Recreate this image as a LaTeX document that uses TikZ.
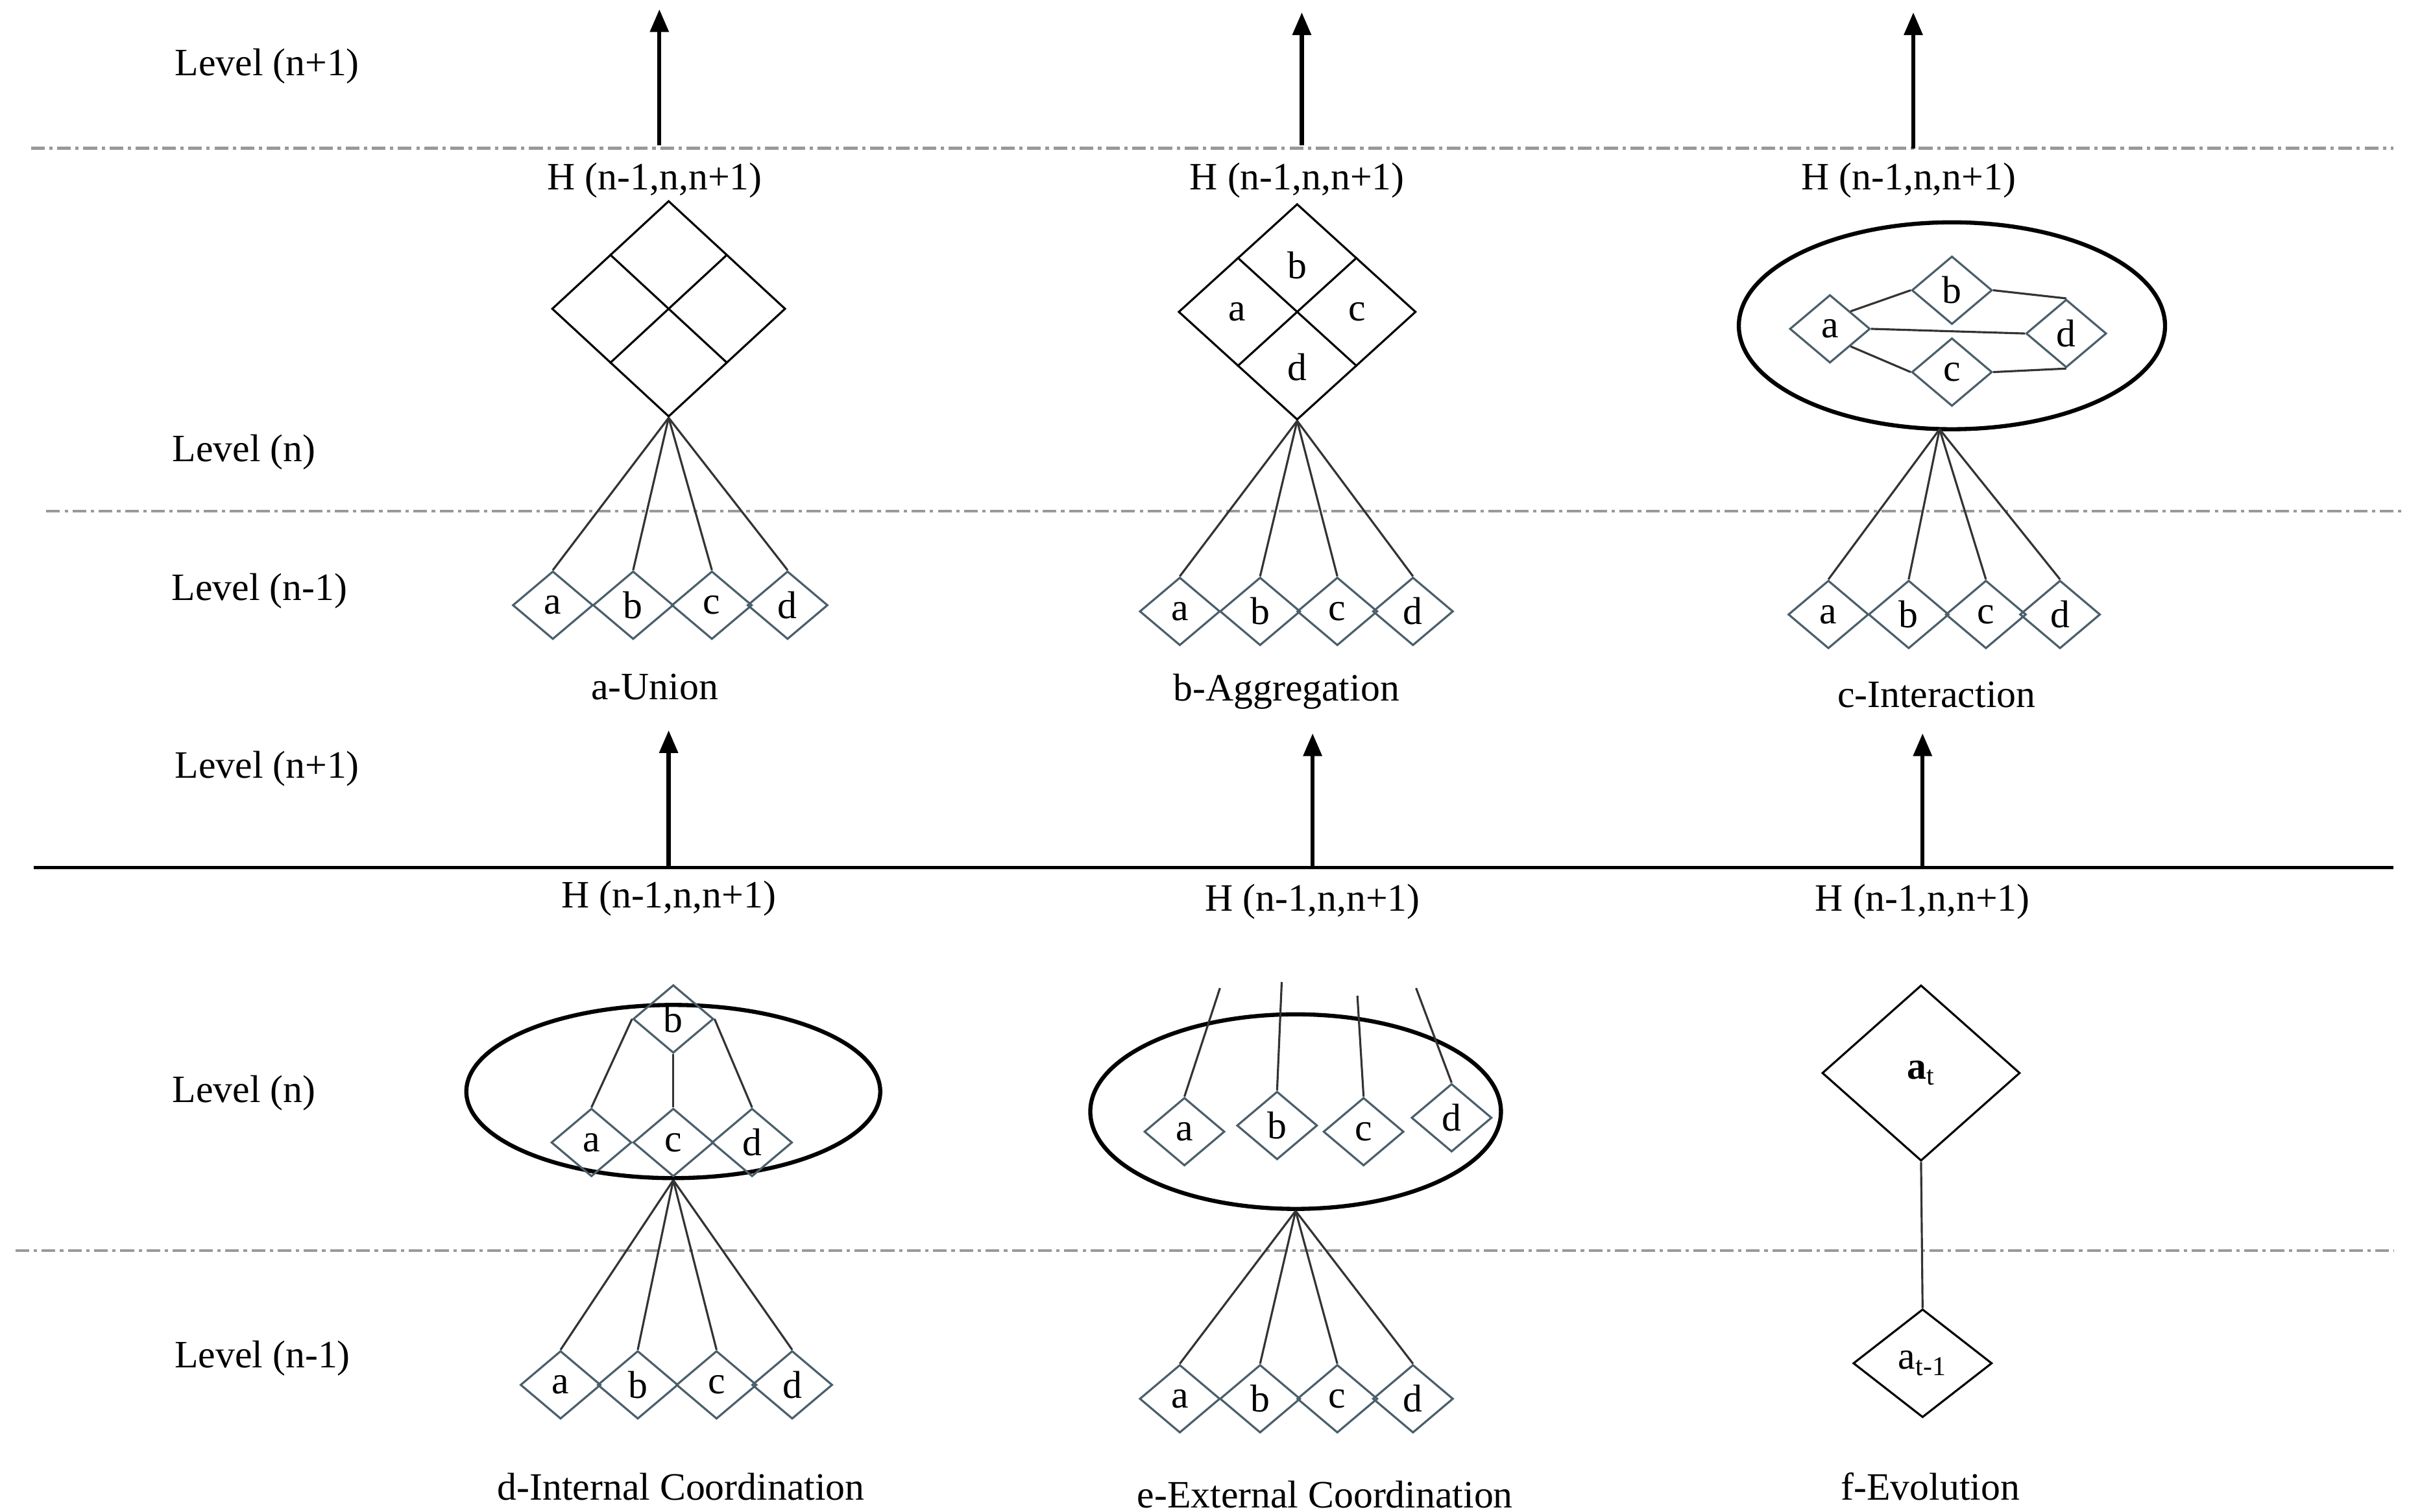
\documentclass[tikz,border=0pt]{standalone}
\usepackage{fontspec}
\setmainfont{Liberation Serif}
\usetikzlibrary{shapes.geometric,calc,arrows.meta}
\definecolor{slate}{HTML}{4A5F6B}
\begin{document}
\begin{tikzpicture}[x=0.0238cm,y=-0.0238cm,
  every node/.style={font=\fontsize{17}{20}\selectfont},
  sd/.style={diamond,draw=slate,line width=0.9pt,minimum width=1.24cm,minimum height=1.05cm,inner sep=0pt},
  bd/.style={diamond,draw=black,line width=0.9pt,minimum width=3.6cm,minimum height=3.33cm,inner sep=0pt},
  el/.style={ellipse,draw=black,line width=1.8pt,inner sep=0pt},
  ln/.style={draw=black!80,line width=0.9pt},
  dd/.style={draw=black!40,line width=1.2pt,dash pattern=on 6pt off 2pt on 1.5pt off 2pt},
  up/.style={-{Triangle[width=8pt,length=10pt]},line width=1.8pt}]
\useasboundingbox (0,0) rectangle (1560,979);
% level lines
\draw[dd] (20,96) -- (1550,96);
\draw[dd] (30,331) -- (1555,331);
\draw[dd] (10,810) -- (1550,810);
\draw[line width=1.4pt] (22,562) -- (1550,562);
% level labels
\node (l1) at (173,43) {Level (n+1)};
\node (l2) at (158,293) {Level (n)};
\node (l3) at (168,383) {Level (n-1)};
\node (l4) at (173,498) {Level (n+1)};
\node (l5) at (158,708) {Level (n)};
\node (l6) at (170,880) {Level (n-1)};
% arrows
\coordinate (a1s) at (427,94); \coordinate (a1e) at (427,6);
\coordinate (a2s) at (843,94); \coordinate (a2e) at (843,8);
\coordinate (a3s) at (1239,96); \coordinate (a3e) at (1239,8);
\coordinate (a4s) at (433,562); \coordinate (a4e) at (433,473);
\coordinate (a5s) at (850,562); \coordinate (a5e) at (850,475);
\coordinate (a6s) at (1245,562); \coordinate (a6e) at (1245,475);
\foreach \i in {1,...,6} \draw[up] (a\i s) -- (a\i e);
% H labels
\node (h1) at (424,117) {H (n-1,n,n+1)};
\node (h2) at (840,117) {H (n-1,n,n+1)};
\node (h3) at (1236,117) {H (n-1,n,n+1)};
\node (h4) at (433,582) {H (n-1,n,n+1)};
\node (h5) at (850,584) {H (n-1,n,n+1)};
\node (h6) at (1245,584) {H (n-1,n,n+1)};
% ---- panel a
\node[bd] (A) at (433,200) {};
\draw[ln,black] ($(A.north)!0.5!(A.west)$) -- ($(A.south)!0.5!(A.east)$);
\draw[ln,black] ($(A.north)!0.5!(A.east)$) -- ($(A.south)!0.5!(A.west)$);
\coordinate (pa) at (A.south);
\foreach \x/\t [count=\k] in {358/a,410/b,461/c,510/d}{
  \node[sd] (ua\k) at (\x,392) {\t};
  \draw[ln] (pa) -- (ua\k.north);}
\node (ta) at (424,445) {a-Union};
% ---- panel b
\node[bd,minimum width=3.66cm] (B) at (840,202) {};
\draw[ln,black] ($(B.north)!0.5!(B.west)$) -- ($(B.south)!0.5!(B.east)$);
\draw[ln,black] ($(B.north)!0.5!(B.east)$) -- ($(B.south)!0.5!(B.west)$);
\node (bb) at (840,172) {b};
\node (ba) at (801,202) {a};
\node (bc) at (879,202) {c};
\node (bdl) at (840,238) {d};
\coordinate (pb) at (B.south);
\foreach \x/\t [count=\k] in {764/a,816/b,866/c,915/d}{
  \node[sd] (ub\k) at (\x,396) {\t};
  \draw[ln] (pb) -- (ub\k.north);}
\node (tb) at (833,448) {b-Aggregation};
% ---- panel c
\node[el,minimum width=6.57cm,minimum height=3.19cm] (C) at (1264,211) {};
\node[sd] (cb) at (1264,188) {b};
\node[sd] (ca) at (1185,213) {a};
\node[sd] (cd) at (1338,216) {d};
\node[sd] (cc) at (1264,241) {c};
\draw[ln] ($(ca.north)!0.5!(ca.east)$) -- (cb.west);
\draw[ln] (cb.east) -- (cd.north);
\draw[ln] (ca.east) -- (cd.west);
\draw[ln] ($(ca.south)!0.5!(ca.east)$) -- (cc.west);
\draw[ln] (cc.east) -- (cd.south);
\coordinate (pc) at (1256,278);
\foreach \x/\t [count=\k] in {1184/a,1236/b,1286/c,1334/d}{
  \node[sd] (uc\k) at (\x,398) {\t};
  \draw[ln] (pc) -- (uc\k.north);}
\node (tc) at (1254,450) {c-Interaction};
% ---- panel d
\node[el,minimum width=6.38cm,minimum height=2.67cm] (D) at (436,707) {};
\node[sd] (db) at (436,660) {b};
\node[sd] (da) at (383,740) {a};
\node[sd] (dc) at (436,740) {c};
\node[sd] (ddd) at (487,740) {d};
\draw[ln] (db.south) -- (dc.north);
\draw[ln] (db.west) -- (da.north);
\draw[ln] (db.east) -- (ddd.north);
\coordinate (pd) at (D.south);
\foreach \x/\t [count=\k] in {363/a,413/b,464/c,513/d}{
  \node[sd] (ud\k) at (\x,897) {\t};
  \draw[ln] (pd) -- (ud\k.north);}
\node (td) at (441,963) {d-Internal Coordination};
% ---- panel e
\node[el,minimum width=6.33cm,minimum height=3.0cm] (E) at (839,720) {};
\node[sd] (ea) at (767,733) {a};
\node[sd] (eb) at (827,729) {b};
\node[sd] (ec) at (883,733) {c};
\node[sd] (ed) at (940,724) {d};
\coordinate (ea2) at (790,640);
\coordinate (eb2) at (830,636);
\coordinate (ec2) at (879,645);
\coordinate (ed2) at (917,640);
\draw[ln] (ea.north) -- (ea2);
\draw[ln] (eb.north) -- (eb2);
\draw[ln] (ec.north) -- (ec2);
\draw[ln] (ed.north) -- (ed2);
\coordinate (pe) at (E.south);
\foreach \x/\t [count=\k] in {764/a,816/b,866/c,915/d}{
  \node[sd] (ue\k) at (\x,906) {\t};
  \draw[ln] (pe) -- (ue\k.north);}
\node (te) at (858,968) {e-External Coordination};
% ---- panel f
\node[diamond,draw=black,line width=0.9pt,minimum width=3.05cm,minimum height=2.71cm,inner sep=0pt] (F1) at (1244,695) {\textbf{a}\textsubscript{t}};
\node[diamond,draw=black,line width=0.9pt,minimum width=2.14cm,minimum height=1.67cm,inner sep=0pt] (F2) at (1245,883) {a\textsubscript{t-1}};
\draw[ln] (F1.south) -- (F2.north);
\node (tf) at (1250,963) {f-Evolution};
\end{tikzpicture}
\end{document}
